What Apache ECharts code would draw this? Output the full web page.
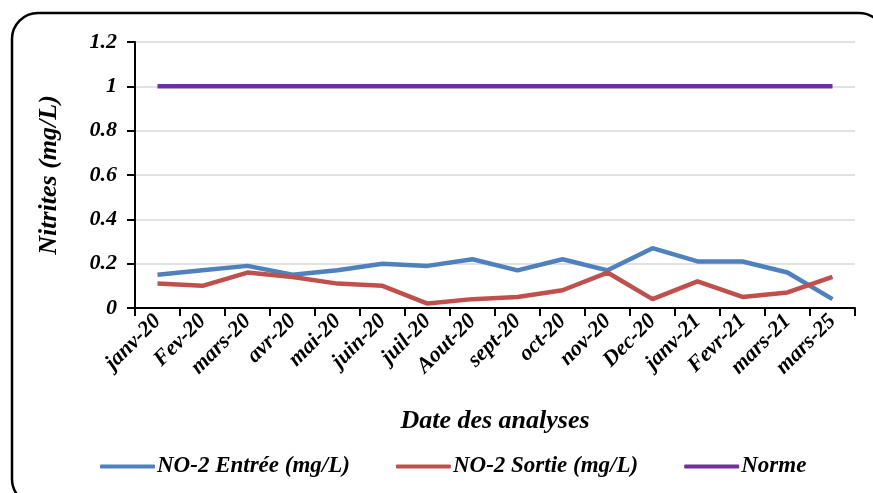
<!DOCTYPE html>
<html>
<head>
<meta charset="utf-8">
<script src="https://cdn.jsdelivr.net/npm/echarts@6/dist/echarts.min.js"></script>
<style>
    html, body { margin: 0; padding: 0; background: #fff; }
    #chartDiv { width: 873px; height: 493px; }
</style>
</head>
<body>
<div id="chartDiv"></div>
<script>
var months = ['janv-20', 'Fev-20', 'mars-20', 'avr-20', 'mai-20', 'juin-20', 'juil-20', 'Aout-20',
    'sept-20', 'oct-20', 'nov-20', 'Dec-20', 'janv-21', 'Fevr-21', 'mars-21', 'mars-25'];
var entree = [0.15, 0.17, 0.19, 0.15, 0.17, 0.20, 0.19, 0.22, 0.17, 0.22, 0.17, 0.27, 0.21, 0.21, 0.16, 0.04];
var sortie = [0.11, 0.10, 0.16, 0.14, 0.11, 0.10, 0.02, 0.04, 0.05, 0.08, 0.16, 0.04, 0.12, 0.05, 0.07, 0.14];
var norme = [1, 1, 1, 1, 1, 1, 1, 1, 1, 1, 1, 1, 1, 1, 1, 1];

var txt = {
    fontFamily: 'Liberation Serif',
    fontWeight: 'bold',
    fontStyle: 'italic',
    color: '#000'
};

var myChart = echarts.init(document.getElementById('chartDiv'));

myChart.setOption({
    animation: false,
    graphic: [{
        type: 'rect',
        shape: { x: 12, y: 13, width: 873, height: 492, r: 26 },
        style: { fill: 'none', stroke: '#000', lineWidth: 2.5 },
        silent: true
    }],
    grid: { left: 135, right: 18, top: 42, bottom: 185 },
    legend: {
        top: 450,
        left: 95,
        itemWidth: 55,
        itemHeight: 4,
        itemGap: 46,
        icon: 'roundRect',
        textStyle: Object.assign({ fontSize: 23, padding: [0, 0, 0, -3] }, txt),
        data: ['NO-2 Entrée (mg/L)', 'NO-2 Sortie (mg/L)', 'Norme']
    },
    xAxis: {
        type: 'category',
        data: months,
        boundaryGap: true,
        name: 'Date des analyses',
        nameLocation: 'middle',
        nameGap: 100,
        nameTextStyle: Object.assign({ fontSize: 26 }, txt),
        axisLine: { lineStyle: { color: '#000', width: 2 } },
        axisTick: { show: true, length: 8, lineStyle: { color: '#000', width: 2 } },
        axisLabel: Object.assign({ fontSize: 22, rotate: 45, margin: 10, interval: 0 }, txt),
        splitLine: { show: false }
    },
    yAxis: {
        type: 'value',
        min: 0,
        max: 1.2,
        interval: 0.2,
        name: 'Nitrites (mg/L)',
        nameLocation: 'middle',
        nameGap: 73,
        nameTextStyle: Object.assign({ fontSize: 26 }, txt),
        axisLine: { show: true, lineStyle: { color: '#000', width: 2 } },
        axisTick: { show: true, length: 8, lineStyle: { color: '#000', width: 2 } },
        axisLabel: Object.assign({ fontSize: 22, margin: 18 }, txt),
        splitLine: { lineStyle: { color: '#d9d9d9', width: 1.5 } }
    },
    series: [
        {
            name: 'NO-2 Entrée (mg/L)',
            type: 'line',
            data: entree,
            symbol: 'none',
            color: '#4F81BD',
            lineStyle: { width: 4.5 }
        },
        {
            name: 'NO-2 Sortie (mg/L)',
            type: 'line',
            data: sortie,
            symbol: 'none',
            color: '#C0504D',
            lineStyle: { width: 4.5 }
        },
        {
            name: 'Norme',
            type: 'line',
            data: norme,
            symbol: 'none',
            color: '#7030A0',
            lineStyle: { width: 4.5 }
        }
    ]
});
</script>
</body>
</html>
